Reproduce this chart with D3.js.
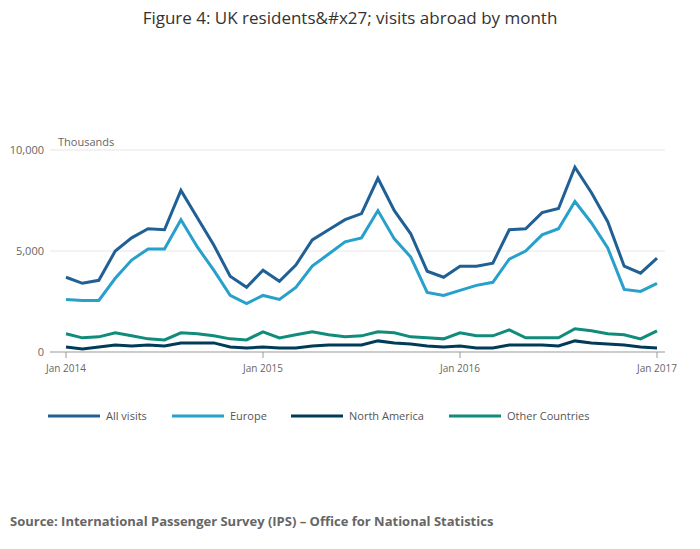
<!DOCTYPE html>
<html><head><meta charset="utf-8">
<script src="https://cdn.jsdelivr.net/npm/d3@7"></script>
<style>body{margin:0;background:#fff;font-family:"Open Sans",sans-serif}</style>
</head><body><svg id="c" width="700" height="549"></svg>
<script>
const seriesNames=["All visits","Europe","North America","Other Countries"];
const colors=["#206095","#27a0cc","#003c57","#118c7b"];
const allVisits=[3700,3400,3550,5000,5650,6100,6050,8000,6650,5300,3750,3200,4050,3500,4300,5550,6050,6550,6850,8600,7000,5850,4000,3700,4250,4250,4400,6050,6100,6900,7100,9150,7900,6450,4250,3900,4650];
const europe=[2600,2550,2550,3650,4550,5100,5100,6550,5200,4050,2800,2400,2800,2600,3200,4250,4850,5450,5650,7000,5600,4700,2950,2800,3050,3300,3450,4600,5000,5800,6100,7450,6400,5150,3100,3000,3400];
const northAmerica=[250,150,250,350,300,350,300,450,450,450,250,200,250,200,200,300,350,350,350,550,450,400,300,250,300,200,200,350,350,350,300,550,450,400,350,250,200];
const otherCountries=[900,700,750,950,800,650,600,950,900,800,650,600,1000,700,850,1000,850,750,800,1000,950,750,700,650,950,800,800,1100,700,700,700,1150,1050,900,850,650,1050];
const xTickLabels=["Jan 2014","Jan 2015","Jan 2016","Jan 2017"];
const yTicks=[0,5000,10000];
const data=[allVisits,europe,northAmerica,otherCountries];
const svg=d3.select("#c");
const x=d3.scaleLinear().domain([0,36]).range([66,657]);
const y=d3.scaleLinear().domain([0,10000]).range([352,150]);
svg.append("text").attr("x",350).attr("y",24).attr("text-anchor","middle").attr("font-size",17).attr("fill","#333").text("Figure 4: UK residents&#x27; visits abroad by month");
yTicks.forEach(t=>{
 svg.append("line").attr("x1",50).attr("x2",665).attr("y1",y(t)).attr("y2",y(t)).attr("stroke",t===0?"#999":"#e6e6e6");
 svg.append("text").attr("x",44).attr("y",y(t)+4).attr("text-anchor","end").attr("font-size",11).attr("fill","#666").text(d3.format(",")(t));
});
svg.append("text").attr("x",58).attr("y",146).attr("font-size",11).attr("fill","#666").text("Thousands");
xTickLabels.forEach((l,i)=>{
 const xx=x(i*12);
 svg.append("line").attr("x1",xx).attr("x2",xx).attr("y1",352).attr("y2",358).attr("stroke","#999");
 svg.append("text").attr("x",xx).attr("y",372).attr("text-anchor","middle").attr("font-size",10).attr("fill","#666").text(l);
});
const line=d3.line().x((d,i)=>x(i)).y(d=>y(d));
data.forEach((s,k)=>svg.append("path").attr("d",line(s)).attr("fill","none").attr("stroke",colors[k]).attr("stroke-width",3));
const lx=[48,172,291,449];
seriesNames.forEach((n,k)=>{
 svg.append("line").attr("x1",lx[k]).attr("x2",lx[k]+52).attr("y1",416).attr("y2",416).attr("stroke",colors[k]).attr("stroke-width",3);
 svg.append("text").attr("x",lx[k]+58).attr("y",420).attr("font-size",11).attr("fill","#555").text(n);
});
svg.append("text").attr("x",10).attr("y",526).attr("font-size",13).attr("font-weight","bold").attr("fill","#666").text("Source: International Passenger Survey (IPS) – Office for National Statistics");
</script></body></html>
